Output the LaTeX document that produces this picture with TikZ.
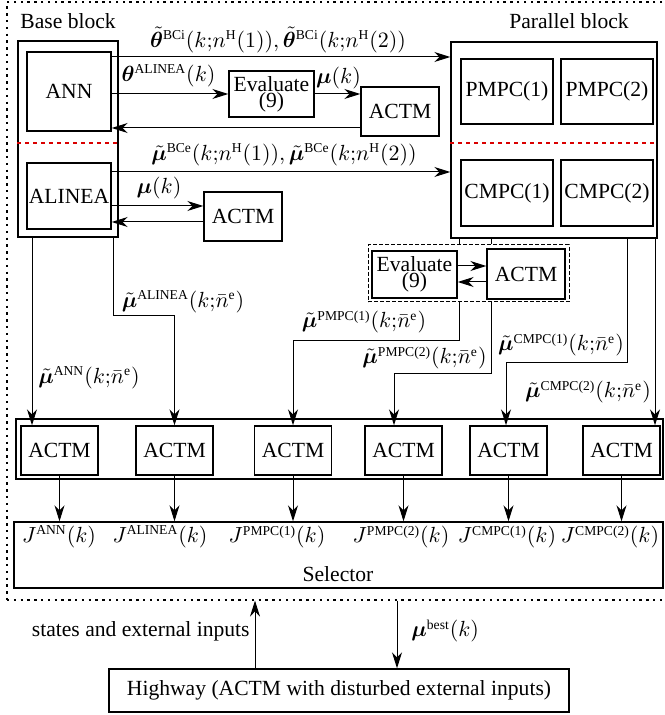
\documentclass[tikz,border=0pt]{standalone}
\usepackage{amsmath,bm}
\usepackage{fontspec}
\setmainfont{Liberation Serif}
\usetikzlibrary{arrows.meta,calc}
\DeclareMathSizes{10.8}{10.8}{6.8}{5}
\newcommand{\stx}[1]{\text{#1}}
\newcommand{\smc}{\mathord{;}}
\begin{document}
\begin{tikzpicture}[x=0.5pt,y=-0.5pt,
  every node/.style={font=\fontsize{10.8}{12}\selectfont},
  box/.style={draw, line width=0.7pt, inner sep=0pt, align=center},
  arr/.style={-{Stealth[length=8pt,width=5pt,inset=2.6pt]}, line width=0.5pt},
  ln/.style={line width=0.5pt},
  reddash/.style={red!85!black, line width=0.6pt, dash pattern=on 2pt off 2pt},
  lbl/.style={inner sep=0pt}]
\useasboundingbox (0,0) rectangle (664,715);

% outer dotted frame
\node[draw, line width=0.6pt, dash pattern=on 1.2pt off 2.2pt, minimum width=330.5pt, minimum height=299pt, inner sep=0pt] (outer) at (337.5,301) {};

% base block
\node[lbl, anchor=west] (basetxt) at (20,21) {Base block};
\node[box, minimum width=50pt, minimum height=98pt] (base) at (68,139) {};
\node[box, minimum width=42pt, minimum height=39.5pt] (ann) at (69,91.5) {ANN};
\node[box, minimum width=42pt, minimum height=33pt] (alinea) at (69,196) {ALINEA};
\coordinate (rd) at (0,143);
\draw[reddash] (base.west |- rd) -- (base.east |- rd);

% parallel block
\node[lbl] (partxt) at (569,21) {Parallel block};
\node[box, minimum width=103pt, minimum height=98pt] (par) at (554,140) {};
\node[box, minimum width=46pt, minimum height=32.5pt] (p1) at (507,91.5) {PMPC(1)};
\node[box, minimum width=46pt, minimum height=32.5pt] (p2) at (607,91.5) {PMPC(2)};
\node[box, minimum width=46pt, minimum height=33pt] (c1) at (507,193) {CMPC(1)};
\node[box, minimum width=46pt, minimum height=33pt] (c2) at (607,193) {CMPC(2)};
\draw[reddash] (par.west |- rd) -- (par.east |- rd);

% evaluate + ACTM (ANN)
\node[box, minimum width=42.5pt, minimum height=23pt] (ev1) at (271.5,94) {Evaluate\\[-4pt](9)};
\node[box, minimum width=39pt, minimum height=24.5pt] (acta) at (400,111.5) {ACTM};
\node[box, minimum width=39pt, minimum height=24.5pt] (actb) at (243,216.5) {ACTM};

% dashed group
\node[draw, line width=0.5pt, dash pattern=on 1.8pt off 1.2pt, minimum width=100.5pt, minimum height=28.5pt, inner sep=0pt] (grp) at (468.5,273.5) {};
\node[box, minimum width=42.5pt, minimum height=23.5pt] (ev2) at (414.5,274.5) {Evaluate\\[-4pt](9)};
\node[box, minimum width=39pt, minimum height=25pt] (actc) at (526,274) {ACTM};

% ACTM row
\node[box, minimum width=323.5pt, minimum height=30pt] (row) at (339.5,449) {};
\foreach \i/\x in {1/59.5,2/174.5,3/293,4/403.5,5/508.5,6/621.5}
  \node[box, minimum width=38.5pt, minimum height=24.5pt] (r\i) at (\x,450.5) {ACTM};

% selector
\node[box, minimum width=324.5pt, minimum height=33pt] (sel) at (338.5,555) {};
\node[lbl] (seltxt) at (338,574) {Selector};
\node[lbl] (j1) at (59,537) {$J^{\stx{ANN}}(k)$};
\node[lbl] (j2) at (160,537) {$J^{\stx{ALINEA}}(k)$};
\node[lbl] (j3) at (277,537) {$J^{\stx{PMPC(1)}}(k)$};
\node[lbl] (j4) at (401,537) {$J^{\stx{PMPC(2)}}(k)$};
\node[lbl] (j5) at (507,537) {$J^{\stx{CMPC(1)}}(k)$};
\node[lbl] (j6) at (610,537) {$J^{\stx{CMPC(2)}}(k)$};

% highway
\node[box, minimum width=230pt, minimum height=21.5pt] (hw) at (339,690.5) {Highway (ACTM with disturbed external inputs)};

% helper coordinates
\coordinate (ya) at (0,57);
\coordinate (yr1) at (0,128);
\coordinate (yb) at (0,172);
\coordinate (yc) at (0,206);
\coordinate (yr2) at (0,222);
\coordinate (ye1) at (0,266);
\coordinate (ye2) at (0,282);
\coordinate (x1) at (32,0);
\coordinate (x2) at (113,0);
\coordinate (x3) at (459,0);
\coordinate (x4) at (491,0);
\coordinate (x5) at (627,0);
\coordinate (x6) at (655,0);
\coordinate (a4) at (394,0);
\coordinate (a5) at (506,0);
\coordinate (h2) at (0,316);
\coordinate (h3) at (0,340);
\coordinate (h4) at (0,373);
\coordinate (h5) at (0,362);
\coordinate (s1) at (255,0);
\coordinate (s2) at (397,0);

% top connectors
\draw[arr] (ann.east |- ya) -- (par.west |- ya);
\draw[arr] (ann.east |- ev1.west) -- (ev1.west);
\draw[arr] (ev1.east) -- (acta.west |- ev1.east);
\draw[arr] (acta.west |- yr1) -- (ann.east |- yr1);
\draw[arr] (alinea.east |- yb) -- (par.west |- yb);
\draw[arr] (alinea.east |- yc) -- (actb.west |- yc);
\draw[arr] (actb.west |- yr2) -- (alinea.east |- yr2);
\draw[arr] (ev2.east |- ye1) -- (actc.west |- ye1);
\draw[arr] (actc.west |- ye2) -- (ev2.east |- ye2);

% labels top
\node[lbl] (lbci) at (278,40) {$\tilde{\bm{\theta}}^{\stx{BCi}}(k\smc n^{\stx{H}}(1)),\tilde{\bm{\theta}}^{\stx{BCi}}(k\smc n^{\stx{H}}(2))$};
\node[lbl] (lal) at (168.5,76) {$\bm{\theta}^{\stx{ALINEA}}(k)$};
\node[lbl] (lmu1) at (338.5,78) {$\bm{\mu}(k)$};
\node[lbl] (lbce) at (284,155) {$\tilde{\bm{\mu}}^{\stx{BCe}}(k\smc n^{\stx{H}}(1)),\tilde{\bm{\mu}}^{\stx{BCe}}(k\smc n^{\stx{H}}(2))$};
\node[lbl] (lmu2) at (159,188) {$\bm{\mu}(k)$};

% down connectors to ACTM row
\draw[arr] (base.south -| x1) -- (r1.north -| x1);
\draw[arr] (base.south -| x2) -- (x2 |- h2) -- (r2.north |- h2) -- (r2.north);
\draw[ln] (par.south -| x3) -- (grp.north -| x3);
\draw[ln] (par.south -| x4) -- (grp.north -| x4);
\draw[arr] (grp.south -| x3) -- (x3 |- h3) -- (r3.north |- h3) -- (r3.north);
\draw[arr] (grp.south -| x4) -- (x4 |- h4) -- (a4 |- h4) -- (r4.north -| a4);
\draw[arr] (par.south -| x5) -- (x5 |- h5) -- (a5 |- h5) -- (r5.north -| a5);
\draw[arr] (par.south -| x6) -- (r6.north -| x6);

\node[lbl] (lann) at (89,378) {$\tilde{\bm{\mu}}^{\stx{ANN}}(k\smc\bar{n}^{\stx{e}})$};
\node[lbl] (lali) at (183,302) {$\tilde{\bm{\mu}}^{\stx{ALINEA}}(k\smc\bar{n}^{\stx{e}})$};
\node[lbl] (lp1) at (364,322) {$\tilde{\bm{\mu}}^{\stx{PMPC(1)}}(k\smc\bar{n}^{\stx{e}})$};
\node[lbl] (lp2) at (424.5,358) {$\tilde{\bm{\mu}}^{\stx{PMPC(2)}}(k\smc\bar{n}^{\stx{e}})$};
\node[lbl] (lc1) at (561,345) {$\tilde{\bm{\mu}}^{\stx{CMPC(1)}}(k\smc\bar{n}^{\stx{e}})$};
\node[lbl] (lc2) at (588,392) {$\tilde{\bm{\mu}}^{\stx{CMPC(2)}}(k\smc\bar{n}^{\stx{e}})$};

% ACTM row to selector
\foreach \i in {1,...,6}
  \draw[arr] (r\i.south) -- (sel.north -| r\i.south);

% highway connectors
\draw[arr] (hw.north -| s1) -- (outer.south -| s1);
\draw[arr] (outer.south -| s2) -- (hw.north -| s2);
\node[lbl, anchor=east] (lst) at (250,631) {states and external inputs};
\node[lbl, anchor=west] (lbest) at (411,631) {$\bm{\mu}^{\stx{best}}(k)$};
\end{tikzpicture}
\end{document}
